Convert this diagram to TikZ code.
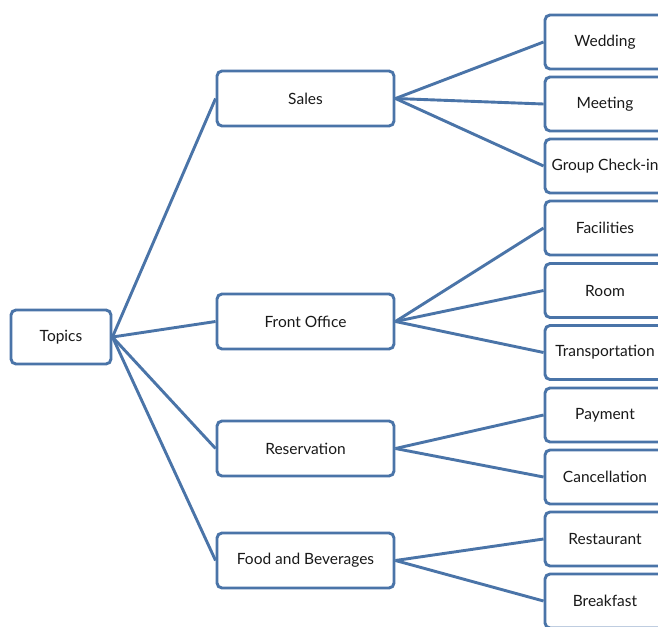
\documentclass[tikz,border=0pt]{standalone}
\usepackage{fontspec}
\setmainfont{Lato}
\definecolor{edge}{HTML}{4A74A8}
\begin{document}
\begin{tikzpicture}[x=1pt,y=-1pt,
  box/.style={draw=edge, line width=2.9pt, rounded corners=5pt, fill=white,
    inner sep=0pt, font=\fontsize{15.5}{18}\selectfont, text=black!90},
  topbox/.style={box, minimum width=100pt, minimum height=54pt},
  midbox/.style={box, minimum width=177pt, minimum height=55pt},
  leafbox/.style={box, minimum width=120pt, minimum height=54pt},
  link/.style={draw=edge, line width=2.9pt}]
\useasboundingbox (0,0) rectangle (658,626);
\clip (0,0) rectangle (658,626);
\fill[white] (0,0) rectangle (658,626);
\node[topbox] (topics) at (61,337) {Topics};
\node[midbox] (sales) at (305.5,98.5) {Sales};
\node[midbox] (front) at (305.5,321.5) {Front Office};
\node[midbox] (res) at (305.5,448.5) {Reservation};
\node[midbox] (food) at (305.5,560.5) {Food and Beverages};
\node[leafbox] (wed) at (605,42) {Wedding};
\node[leafbox] (meet) at (605,104) {Meeting};
\node[leafbox] (group) at (605,166) {Group Check-in};
\node[leafbox] (fac) at (605,228) {Facilities};
\node[leafbox] (room) at (605,290.5) {Room};
\node[leafbox] (trans) at (605,352.5) {Transportation};
\node[leafbox] (pay) at (605,415) {Payment};
\node[leafbox] (canc) at (605,477) {Cancellation};
\node[leafbox] (rest) at (605,539) {Restaurant};
\node[leafbox] (break) at (605,601) {Breakfast};
\foreach \m in {sales,front,res,food}{\draw[link] (topics.east) -- (\m.west);}
\foreach \l in {wed,meet,group}{\draw[link] (sales.east) -- (\l.west);}
\foreach \l in {fac,room,trans}{\draw[link] (front.east) -- (\l.west);}
\foreach \l in {pay,canc}{\draw[link] (res.east) -- (\l.west);}
\foreach \l in {rest,break}{\draw[link] (food.east) -- (\l.west);}
\end{tikzpicture}
\end{document}
